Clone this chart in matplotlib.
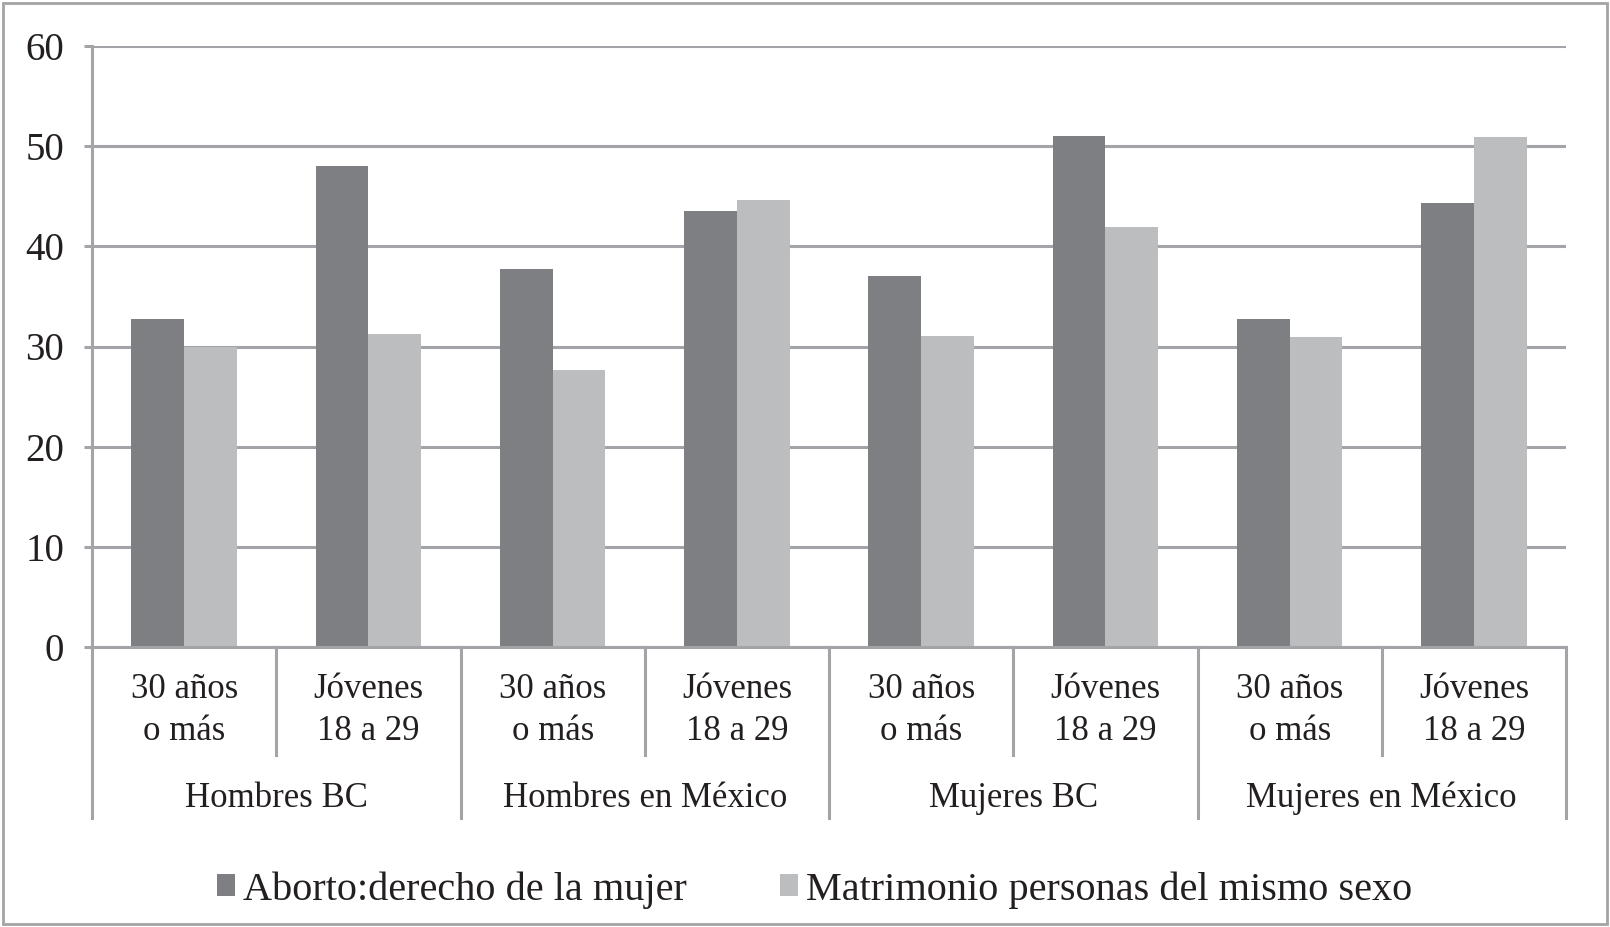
import numpy as np
import matplotlib
matplotlib.use('Agg')
import matplotlib.pyplot as plt
from matplotlib.patches import Rectangle

plt.rcParams['font.family'] = ['Liberation Serif', 'DejaVu Serif']

# data
groups = ['Hombres BC', 'Hombres en México', 'Mujeres BC', 'Mujeres en México']
ages = ['30 años\no más', 'Jóvenes\n18 a 29']
aborto = [32.7, 48.0, 37.7, 43.5, 37.0, 51.0, 32.7, 44.3]
matrimonio = [30.0, 31.2, 27.7, 44.6, 31.0, 41.9, 30.9, 50.9]
series_names = ['Aborto:derecho de la mujer', 'Matrimonio personas del mismo sexo']
yticks = [0, 10, 20, 30, 40, 50, 60]

dark = '#7e7f83'
light = '#bcbdbf'
line_col = '#a3a4a7'

W, H = 1610, 927
fig = plt.figure(figsize=(W / 100, H / 100), dpi=100)
ax = fig.add_axes([92 / W, 1 - 647 / H, (1566 - 92) / W, (647 - 46) / H])

n = len(aborto)
x = np.arange(n)
w = 0.2857
ax.bar(x - w / 2, aborto, w, color=dark, label=series_names[0], zorder=3)
ax.bar(x + w / 2, matrimonio, w, color=light, label=series_names[1], zorder=3)

ax.set_xlim(-0.5, n - 0.5)
ax.set_ylim(0, 60)
ax.set_yticks(yticks)
ax.yaxis.grid(True, color=line_col, lw=2.2, zorder=0)
ax.set_axisbelow(True)
ax.tick_params(axis='y', length=6, width=2.2, color=line_col, pad=14, labelsize=28)
ax.set_xticks([])
for s in ['top', 'right', 'bottom']:
    ax.spines[s].set_visible(False)
ax.spines['left'].set_color(line_col)
ax.spines['left'].set_linewidth(2.2)

trans = ax.get_xaxis_transform()
# x axis line at 0
ax.plot([-0.5, n - 0.5], [0, 0], color=line_col, lw=2.2, zorder=4, clip_on=False)

# category dividers and labels
inner_end = -0.18
outer_end = -0.285
for i in range(n + 1):
    b = i - 0.5
    end = outer_end if i % 2 == 0 else inner_end
    ax.plot([b, b], [0, end], color=line_col, lw=2.2, transform=trans, clip_on=False)
for i in range(n):
    ax.text(i, -0.106, ages[i % 2], transform=trans, ha='center', va='center',
            fontsize=25, color='#231f20', linespacing=1.38)
for g, name in enumerate(groups):
    ax.text(2 * g + 0.5, -0.252, name, transform=trans, ha='center', va='center',
            fontsize=25, color='#231f20')

for lab in ax.get_yticklabels():
    lab.set_color('#231f20')

fig.legend(loc='center', bbox_to_anchor=(0.506, 0.04), ncol=2, frameon=False,
           fontsize=29, handlelength=0.46, handleheight=0.46, handletextpad=0.2,
           columnspacing=2.3, labelcolor='#231f20')

# outer frame
fig.patches.append(Rectangle((0.002, 0.003), 0.996, 0.994, transform=fig.transFigure,
                             fill=False, edgecolor=line_col, lw=2))

fig.savefig('out.png', dpi=100, facecolor='white')
